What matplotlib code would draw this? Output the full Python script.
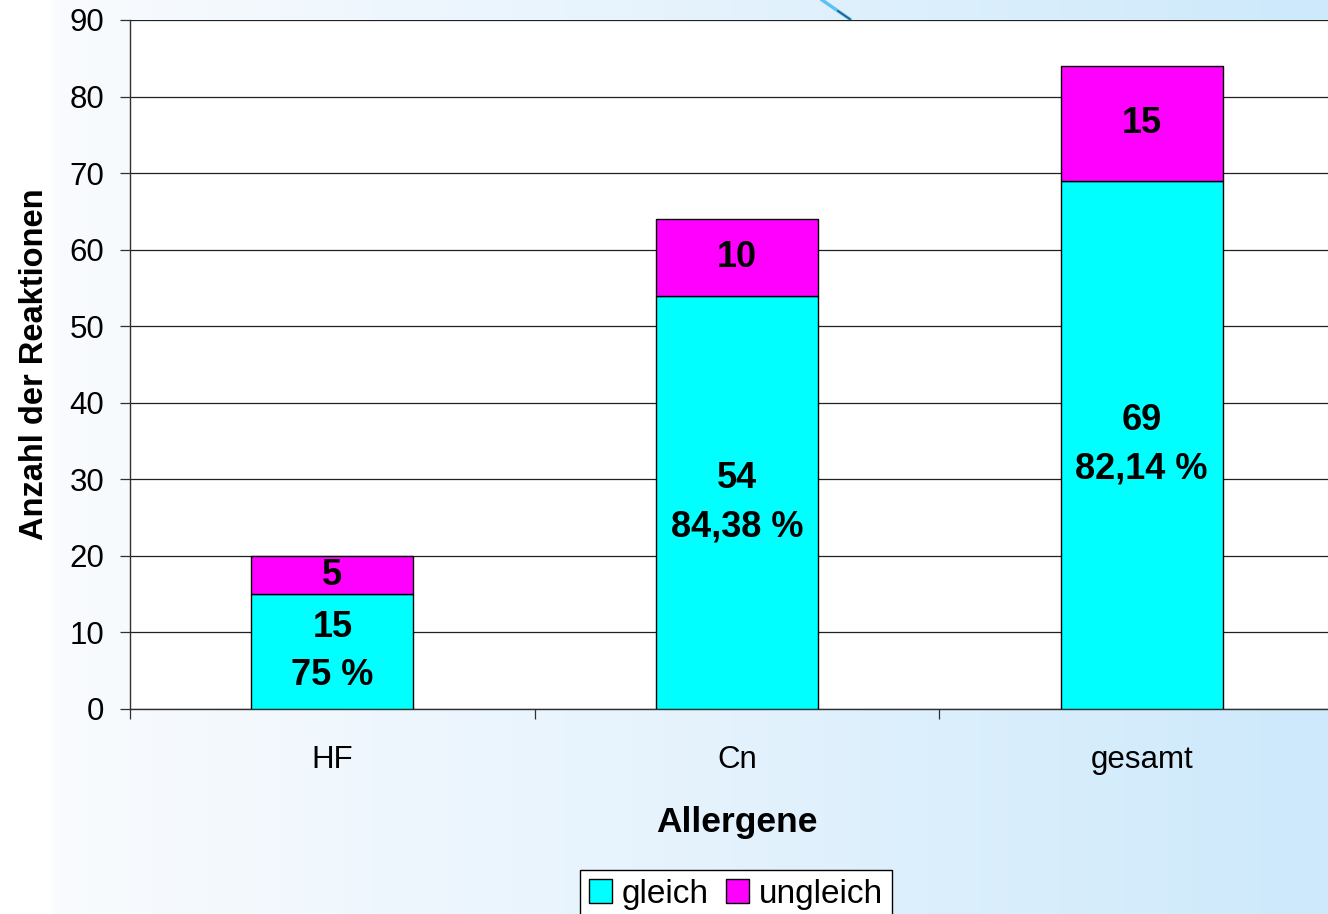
import numpy as np
import matplotlib.pyplot as plt
from matplotlib.lines import Line2D
from matplotlib.colors import LinearSegmentedColormap

plt.rcParams['font.family'] = ['Liberation Sans', 'DejaVu Sans']

categories = ['HF', 'Cn', 'gesamt']
gleich = [15, 54, 69]
ungleich = [5, 10, 15]

cyan = '#00ffff'
magenta = '#ff00ff'

fig = plt.figure(figsize=(13.28, 9.14), dpi=100)

# soft left-to-right background gradient with a thin white strip on the left
bg = fig.add_axes([0, 0, 1, 1], zorder=-10)
grad = np.linspace(0, 1, 512).reshape(1, -1)
cmap = LinearSegmentedColormap.from_list(
    'bg', [(0, '#ffffff'), (0.037, '#ffffff'), (0.04, '#f9fbfe'),
           (0.5, '#e6f3fd'), (1, '#cde9fb')])
bg.imshow(grad, aspect='auto', cmap=cmap, extent=[0, 1, 0, 1])
bg.set_axis_off()
# small decorative stroke at the top
bg.add_line(Line2D([0.619, 0.640], [1.0, 0.979], color='#5bc0f5', lw=2.4))
bg.add_line(Line2D([0.631, 0.640], [0.988, 0.979], color='#2a5a80', lw=1.2))
bg.set_xlim(0, 1)
bg.set_ylim(0, 1)

ax = fig.add_axes([130 / 1328, 205 / 914, 1214 / 1328, 689 / 914])
ax.set_facecolor('white')
x = np.arange(len(categories))
w = 0.4
ax.bar(x, gleich, w, color=cyan, edgecolor='black', linewidth=1, label='gleich', zorder=3)
ax.bar(x, ungleich, w, bottom=gleich, color=magenta, edgecolor='black', linewidth=1,
       label='ungleich', zorder=3)

for i in range(len(categories)):
    g, u = gleich[i], ungleich[i]
    pct = 100 * g / (g + u)
    if abs(pct - round(pct)) < 1e-9:
        ptxt = f'{int(round(pct))} %'
    else:
        ptxt = f'{pct:.2f} %'.replace('.', ',')
    ax.text(x[i], g / 2, f'{g}\n{ptxt}', ha='center', va='center', fontsize=26,
            fontweight='bold', linespacing=1.5, zorder=4)
    ax.text(x[i], g + u / 2, f'{u}', ha='center', va='center', fontsize=26,
            fontweight='bold', zorder=4)

ax.set_xlim(-0.5, 2.5)
ax.set_ylim(0, 90)
ax.set_yticks(range(0, 91, 10))
ax.yaxis.grid(True, color='#202020', linewidth=0.9, zorder=0)
ax.set_axisbelow(True)
ax.tick_params(axis='y', labelsize=22.5, length=7.5, width=0.9, pad=11, color='#303030')
ax.set_xticks(x)
ax.set_xticklabels(categories)
ax.tick_params(axis='x', length=0, labelsize=22.5, pad=26)
ax.set_xticks([-0.5, 0.5, 1.5], minor=True)
ax.tick_params(axis='x', which='minor', length=7.5, width=0.9, color='#303030')
for s in ['top', 'right']:
    ax.spines[s].set_visible(False)
ax.spines['left'].set_linewidth(1.0)
ax.spines['bottom'].set_linewidth(1.0)
ax.spines['left'].set_color('#303030')
ax.spines['bottom'].set_color('#303030')

ax.set_xlabel('Allergene', fontsize=25.5, fontweight='bold', labelpad=22)
ax.set_ylabel('Anzahl der Reaktionen', fontsize=23.5, fontweight='bold', labelpad=14)

fig.legend(loc='center', bbox_to_anchor=(736 / 1328, 20 / 914), ncol=2, fontsize=24,
           frameon=True, fancybox=False, edgecolor='black', framealpha=1,
           handlelength=0.7, handleheight=0.7, handletextpad=0.3, columnspacing=0.5,
           borderpad=0.25)

fig.savefig('out.png', dpi=100)
